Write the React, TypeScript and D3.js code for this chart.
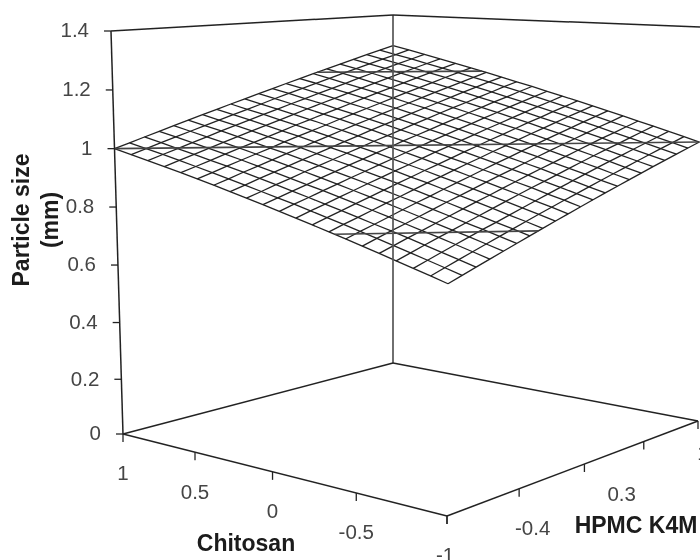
import React from "react";
import * as d3 from "d3";

const chitosanLevels = [-1, -0.9, -0.8, -0.7, -0.6, -0.5, -0.4, -0.3, -0.2, -0.1, 0, 0.1, 0.2, 0.3, 0.4, 0.5, 0.6, 0.7, 0.8, 0.9, 1];
const hpmcLevels = [-1, -0.9, -0.8, -0.7, -0.6, -0.5, -0.4, -0.3, -0.2, -0.1, 0, 0.1, 0.2, 0.3, 0.4, 0.5, 0.6, 0.7, 0.8, 0.9, 1];

// particle size (mm): one row per chitosan level, one column per HPMC K4M level
const particleSize = [
  [.700, .715, .730, .745, .760, .775, .790, .805, .820, .835, .850, .865, .880, .895, .910, .925, .940, .955, .970, .985, 1.000],
  [.715, .730, .745, .760, .775, .790, .805, .820, .835, .850, .865, .879, .894, .909, .924, .939, .954, .969, .984, .999, 1.014],
  [.730, .745, .760, .775, .790, .805, .819, .834, .849, .864, .879, .894, .909, .924, .939, .954, .968, .983, .998, 1.013, 1.028],
  [.745, .760, .775, .790, .804, .819, .834, .849, .864, .879, .894, .908, .923, .938, .953, .968, .983, .997, 1.012, 1.027, 1.042],
  [.760, .775, .790, .804, .819, .834, .849, .864, .878, .893, .908, .923, .938, .952, .967, .982, .997, 1.012, 1.026, 1.041, 1.056],
  [.775, .790, .805, .819, .834, .849, .864, .878, .893, .908, .923, .937, .952, .967, .982, .996, 1.011, 1.026, 1.041, 1.055, 1.070],
  [.790, .805, .819, .834, .849, .864, .878, .893, .908, .922, .937, .952, .966, .981, .996, 1.011, 1.025, 1.040, 1.055, 1.069, 1.084],
  [.805, .820, .834, .849, .864, .878, .893, .908, .922, .937, .952, .966, .981, .995, 1.010, 1.025, 1.039, 1.054, 1.069, 1.083, 1.098],
  [.820, .835, .849, .864, .878, .893, .908, .922, .937, .951, .966, .981, .995, 1.010, 1.024, 1.039, 1.054, 1.068, 1.083, 1.097, 1.112],
  [.835, .850, .864, .879, .893, .908, .922, .937, .951, .966, .981, .995, 1.010, 1.024, 1.039, 1.053, 1.068, 1.082, 1.097, 1.111, 1.126],
  [.850, .865, .879, .894, .908, .923, .937, .952, .966, .981, .995, 1.010, 1.024, 1.039, 1.053, 1.068, 1.082, 1.097, 1.111, 1.126, 1.140],
  [.865, .879, .894, .908, .923, .937, .952, .966, .981, .995, 1.010, 1.024, 1.038, 1.053, 1.067, 1.082, 1.096, 1.111, 1.125, 1.140, 1.154],
  [.880, .894, .909, .923, .938, .952, .966, .981, .995, 1.010, 1.024, 1.038, 1.053, 1.067, 1.082, 1.096, 1.110, 1.125, 1.139, 1.154, 1.168],
  [.895, .909, .924, .938, .952, .967, .981, .995, 1.010, 1.024, 1.039, 1.053, 1.067, 1.082, 1.096, 1.110, 1.125, 1.139, 1.153, 1.168, 1.182],
  [.910, .924, .939, .953, .967, .982, .996, 1.010, 1.024, 1.039, 1.053, 1.067, 1.082, 1.096, 1.110, 1.125, 1.139, 1.153, 1.167, 1.182, 1.196],
  [.925, .939, .954, .968, .982, .996, 1.011, 1.025, 1.039, 1.053, 1.068, 1.082, 1.096, 1.110, 1.125, 1.139, 1.153, 1.167, 1.182, 1.196, 1.210],
  [.940, .954, .968, .983, .997, 1.011, 1.025, 1.039, 1.054, 1.068, 1.082, 1.096, 1.110, 1.125, 1.139, 1.153, 1.167, 1.181, 1.196, 1.210, 1.224],
  [.955, .969, .983, .997, 1.012, 1.026, 1.040, 1.054, 1.068, 1.082, 1.097, 1.111, 1.125, 1.139, 1.153, 1.167, 1.181, 1.196, 1.210, 1.224, 1.238],
  [.970, .984, .998, 1.012, 1.026, 1.041, 1.055, 1.069, 1.083, 1.097, 1.111, 1.125, 1.139, 1.153, 1.167, 1.182, 1.196, 1.210, 1.224, 1.238, 1.252],
  [.985, .999, 1.013, 1.027, 1.041, 1.055, 1.069, 1.083, 1.097, 1.111, 1.126, 1.140, 1.154, 1.168, 1.182, 1.196, 1.210, 1.224, 1.238, 1.252, 1.266],
  [1.000, 1.014, 1.028, 1.042, 1.056, 1.070, 1.084, 1.098, 1.112, 1.126, 1.140, 1.154, 1.168, 1.182, 1.196, 1.210, 1.224, 1.238, 1.252, 1.266, 1.280],
];

const zTicks = [0, 0.2, 0.4, 0.6, 0.8, 1, 1.2, 1.4];
const zTickLabels = ["0", "0.2", "0.4", "0.6", "0.8", "1", "1.2", "1.4"];
const contourLevels = [0.8, 1, 1.2];
const chitosanTicks = [1, 0.5, 0, -0.5, -1];
const chitosanLabels = [1, 0.5, 0, -0.5];
const hpmcTicks = [-1, -0.5, 0, 0.5, 1];
const hpmcLabels = [-1, -0.4, 0.3, 1];

type P = [number, number];

// Square-to-quad projective map; q0..q3 are the images of (0,0),(1,0),(1,1),(0,1)
function quadMap(q0: P, q1: P, q2: P, q3: P) {
  const dx1 = q1[0] - q2[0], dx2 = q3[0] - q2[0], sx = q0[0] - q1[0] + q2[0] - q3[0];
  const dy1 = q1[1] - q2[1], dy2 = q3[1] - q2[1], sy = q0[1] - q1[1] + q2[1] - q3[1];
  const det = dx1 * dy2 - dx2 * dy1;
  const g = (sx * dy2 - dx2 * sy) / det;
  const h = (dx1 * sy - sx * dy1) / det;
  const a = q1[0] - q0[0] + g * q1[0], b = q3[0] - q0[0] + h * q3[0], c = q0[0];
  const d = q1[1] - q0[1] + g * q1[1], e = q3[1] - q0[1] + h * q3[1], f = q0[1];
  return (u: number, v: number): P => {
    const w = g * u + h * v + 1;
    return [(a * u + b * v + c) / w, (d * u + e * v + f) / w];
  };
}

// Corners of the plot box: u runs front->left (chitosan -1..1), v runs front->right (HPMC -1..1)
const floorMap = quadMap([447, 516], [123, 434], [393, 363], [698, 421]);
const roofMap = quadMap([449, 43], [111, 31], [393, 15], [700, 27]);

const uScale = d3.scaleLinear().domain([-1, 1]).range([0, 1]);
const vScale = d3.scaleLinear().domain([-1, 1]).range([0, 1]);
const zScale = d3.scalePow().exponent(1.026).domain([0, 1.4]).range([0, 1]);

function project(c: number, h: number, z: number): P {
  const a = floorMap(uScale(c), vScale(h));
  const b = roofMap(uScale(c), vScale(h));
  const t = zScale(z);
  return [a[0] + (b[0] - a[0]) * t, a[1] + (b[1] - a[1]) * t];
}

const line = d3.line<P>();
const segment = (a: P, b: P) => line([a, b]) as string;

const gridRows = chitosanLevels.map((c, i) =>
  line(hpmcLevels.map((h, j) => project(c, h, particleSize[i][j]))) as string
);
const gridCols = hpmcLevels.map((h, j) =>
  line(chitosanLevels.map((c, i) => project(c, h, particleSize[i][j]))) as string
);

// Each contour joins the places where the level crosses the rim of the surface
const last = chitosanLevels.length - 1;
const rim: { c: number; h: number; z: number }[] = [
  ...hpmcLevels.map((h, j) => ({ c: chitosanLevels[0], h, z: particleSize[0][j] })),
  ...chitosanLevels.slice(1).map((c, i) => ({ c, h: hpmcLevels[last], z: particleSize[i + 1][last] })),
  ...hpmcLevels.slice(0, -1).reverse().map((h, j) => ({ c: chitosanLevels[last], h, z: particleSize[last][last - 1 - j] })),
  ...chitosanLevels.slice(1, -1).reverse().map((c, i) => ({ c, h: hpmcLevels[0], z: particleSize[last - 1 - i][0] })),
];
const contourLines = contourLevels.map((level) => {
  const pts: P[] = [];
  rim.forEach((a, k) => {
    const b = rim[(k + 1) % rim.length];
    if (a.z === level) pts.push(project(a.c, a.h, level));
    else if ((a.z - level) * (b.z - level) < 0) {
      const t = (level - a.z) / (b.z - a.z);
      pts.push(project(a.c + (b.c - a.c) * t, a.h + (b.h - a.h) * t, level));
    }
  });
  return segment(pts[0], pts[pts.length - 1]);
});

const cMin = -1, cMax = 1, hMin = -1, hMax = 1, zTop = 1.4;
const boxLines: [P, P][] = [
  [project(cMax, hMin, 0), project(cMin, hMin, 0)],
  [project(cMin, hMin, 0), project(cMin, hMax, 0)],
  [project(cMax, hMin, 0), project(cMax, hMax, 0)],
  [project(cMax, hMax, 0), project(cMin, hMax, 0)],
  [project(cMax, hMin, 0), project(cMax, hMin, zTop)],
  [project(cMax, hMin, zTop), project(cMax, hMax, zTop)],
  [project(cMax, hMax, zTop), project(cMin, hMax, zTop)],
];

const textFont = "'Liberation Sans', Arial, sans-serif";
const hpmcNudge = [[-2, 41], [0, 46], [1, 45], [5, 34]];
const tickFont = 20.5;
const titleFont = 23;

export default function App() {
  const back0 = project(cMax, hMax, 0);
  const backTop = project(cMax, hMax, zTop);
  return (
    <svg width={700} height={560} style={{ position: "absolute", left: 0, top: 0, background: "#fff" }} fontFamily={textFont}>
      <defs>
        <filter id="soft" x="-5%" y="-5%" width="110%" height="110%">
          <feGaussianBlur stdDeviation={0.4} />
        </filter>
      </defs>
      <g filter="url(#soft)">
        <g fill="none" stroke="#222" strokeWidth={1.3}>
          {gridRows.map((d, i) => <path key={"r" + i} d={d} />)}
          {gridCols.map((d, i) => <path key={"c" + i} d={d} />)}
        </g>
        <g fill="none" stroke="#444" strokeWidth={1.6}>
          {contourLines.map((d, i) => <path key={i} d={d} />)}
        </g>
        <path d={segment(back0, backTop)} stroke="#555" strokeWidth={1.7} fill="none" />
        <g fill="none" strokeWidth={1.5} stroke="#222">
          {boxLines.map(([a, b], i) => <path key={i} d={segment(a, b)} />)}
        </g>
        {zTicks.map((z, i) => {
          const [x, y] = project(cMax, hMin, z);
          return (
            <g key={z}>
              <path d={segment([x - 7, y], [x, y])} stroke="#222" strokeWidth={1.3} />
              <text x={x - 22} y={y + 1} dominantBaseline="middle" textAnchor="end" fontSize={tickFont} fill="#444">{zTickLabels[i]}</text>
            </g>
          );
        })}
        {chitosanTicks.map((c) => {
          const [x, y] = project(c, hMin, 0);
          return <path key={c} d={segment([x, y], [x, y + 8])} stroke="#222" strokeWidth={1.3} />;
        })}
        {hpmcTicks.map((h) => {
          const [x, y] = project(cMin, h, 0);
          return <path key={h} d={segment([x, y], [x, y + 8])} stroke="#222" strokeWidth={1.3} />;
        })}
        {chitosanLabels.map((c) => {
          const [x, y] = project(c, hMin, 0);
          return <text key={c} x={x} y={y + 41} dominantBaseline="middle" textAnchor="middle" fontSize={tickFont} fill="#444">{c}</text>;
        })}
        {hpmcLabels.map((h, i) => {
          const [x, y] = project(cMin, h, 0);
          return <text key={h} x={x + hpmcNudge[i][0]} y={y + hpmcNudge[i][1]} dominantBaseline="middle" textAnchor="middle" fontSize={tickFont} fill="#444">{h}</text>;
        })}
        <text x={246} y={545} dominantBaseline="middle" textAnchor="middle" fontSize={titleFont} fontWeight={700} fill="#1a1a1a">Chitosan</text>
        <text x={636} y={527} dominantBaseline="middle" textAnchor="middle" fontSize={titleFont} fontWeight={700} fill="#1a1a1a">HPMC K4M</text>
        <g transform="translate(23,220) rotate(-90)">
          <text x={0} y={0} dominantBaseline="middle" textAnchor="middle" fontSize={titleFont} fontWeight={700} fill="#1a1a1a">Particle size</text>
          <text x={0} y={29} dominantBaseline="middle" textAnchor="middle" fontSize={titleFont} fontWeight={700} fill="#1a1a1a">(mm)</text>
        </g>
      </g>
    </svg>
  );
}
